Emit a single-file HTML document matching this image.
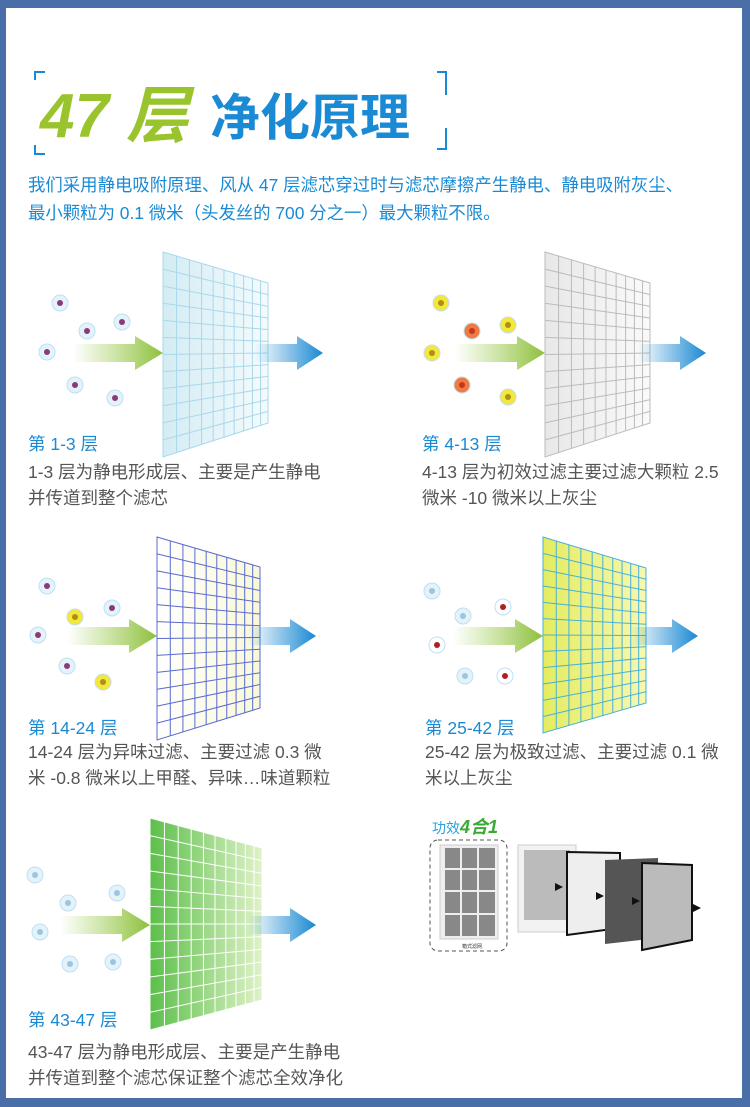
<!DOCTYPE html>
<html><head><meta charset="utf-8"><style>
html,body{margin:0;padding:0}
body{width:750px;height:1107px;position:relative;background:#4a6ea8;overflow:hidden;font-family:"Liberation Sans","Noto Sans CJK SC",sans-serif}
#w{position:absolute;left:6px;top:8px;width:736px;height:1090px;background:#fff}
.t{position:absolute;font-size:17.5px;white-space:nowrap}
.h{color:#1a8ad4}
.d{color:#555;line-height:26px}
svg{position:absolute;left:0;top:0}
</style></head><body>
<div id="w"></div>
<svg id="s" width="750" height="1107">
<defs>
<linearGradient id="ga" x1="0" x2="1"><stop offset="0" stop-color="#9ccb4a" stop-opacity="0"/><stop offset="1" stop-color="#8dc03c"/></linearGradient>
<linearGradient id="ba" x1="0" x2="1"><stop offset="0" stop-color="#1a8ad4" stop-opacity="0"/><stop offset="1" stop-color="#1a88d2"/></linearGradient>
<linearGradient id="f1" x1="0" x2="1"><stop offset="0" stop-color="#d4ecf4"/><stop offset="1" stop-color="#f4fbfd"/></linearGradient>
<linearGradient id="f2" x1="0" x2="1"><stop offset="0" stop-color="#e8e8e8"/><stop offset="1" stop-color="#fafafa"/></linearGradient>
<linearGradient id="f3" x1="0" x2="1"><stop offset="0" stop-color="#fff"/><stop offset="1" stop-color="#f8f8d8"/></linearGradient>
<linearGradient id="f4" x1="0" x2="1"><stop offset="0" stop-color="#e4ec60"/><stop offset="1" stop-color="#f6f8b0"/></linearGradient>
<linearGradient id="f5" x1="0" x2="1"><stop offset="0" stop-color="#5cbf4a"/><stop offset="1" stop-color="#dff2c8"/></linearGradient>
</defs>
<g fill="none" stroke="#1a8ad4" stroke-width="2">
<path d="M35 80 V72 H45"/><path d="M35 145 V154 H45"/><path d="M437 72 H446 V95"/><path d="M437 149 H446 V128"/>
</g>
<text x="40" y="137" font-size="62" font-weight="bold" font-style="italic" fill="#9ac42e" font-family="Liberation Sans,Noto Sans CJK SC,sans-serif">47 层</text>
<text x="210" y="135" font-size="50" font-weight="bold" fill="#1a8ad4" font-family="Liberation Sans,Noto Sans CJK SC,sans-serif">净化原理</text>
<g id="g"></g>
<text x="432" y="833" font-size="14" fill="#2aa0e0" font-family="Liberation Sans,Noto Sans CJK SC,sans-serif">功效<tspan font-weight="bold" font-style="italic" font-size="18" fill="#3aaa35">4合1</tspan></text>
<rect x="430" y="840" width="77" height="111" rx="8" fill="none" stroke="#555" stroke-dasharray="4,3"/>
<rect x="440" y="845" width="58" height="94" fill="#eee" stroke="#ccc"/>
<rect x="445" y="848" width="50" height="88" fill="#888"/>
<g stroke="#eee" stroke-width="2"><path d="M461 848V936M478 848V936M445 869H495M445 891H495M445 914H495"/></g>
<text x="462" y="948" font-size="5" fill="#333">箱式滤网</text>
<rect x="518" y="845" width="58" height="87" fill="#f2f2f2" stroke="#ccc"/>
<rect x="524" y="850" width="46" height="70" fill="#bbb"/>
<polygon points="567,852 620,853 620,928 567,935" fill="#eee" stroke="#111" stroke-width="2"/>
<polygon points="605,860 658,858 658,938 605,944" fill="#555"/>
<polygon points="642,863 692,865 692,940 642,950" fill="#bbb" stroke="#111" stroke-width="2"/>
<g fill="#111"><path d="M555 883l8 4-8 4z"/><path d="M596 892l8 4-8 4z"/><path d="M632 897l8 4-8 4z"/><path d="M693 904l8 4-8 4z"/></g>
</svg>
<div class="t h" style="left:28px;top:171px;font-size:17.4px;line-height:28px">我们采用静电吸附原理、风从 47 层滤芯穿过时与滤芯摩擦产生静电、静电吸附灰尘、<br>最小颗粒为 0.1 微米（头发丝的 700 分之一）最大颗粒不限。</div>
<div class="t h" style="left:28px;top:431px">第 1-3 层</div>
<div class="t d" style="left:28px;top:459px">1-3 层为静电形成层、主要是产生静电<br>并传道到整个滤芯</div>
<div class="t h" style="left:422px;top:431px">第 4-13 层</div>
<div class="t d" style="left:422px;top:459px">4-13 层为初效过滤主要过滤大颗粒 2.5<br>微米 -10 微米以上灰尘</div>
<div class="t h" style="left:28px;top:715px">第 14-24 层</div>
<div class="t d" style="left:28px;top:739px">14-24 层为异味过滤、主要过滤 0.3 微<br>米 -0.8 微米以上甲醛、异味…味道颗粒</div>
<div class="t h" style="left:425px;top:715px">第 25-42 层</div>
<div class="t d" style="left:425px;top:739px">25-42 层为极致过滤、主要过滤 0.1 微<br>米以上灰尘</div>
<div class="t h" style="left:28px;top:1007px">第 43-47 层</div>
<div class="t d" style="left:28px;top:1039px">43-47 层为静电形成层、主要是产生静电<br>并传道到整个滤芯保证整个滤芯全效净化</div>
<script>
var g=document.getElementById('g'),h='';
function F(L,yT,yB,R,yT2,yB2,fill,st,ax,ay,pc,parts){
 h+='<polygon points="'+L+','+yT+' '+R+','+yT2+' '+R+','+yB2+' '+L+','+yB+'" fill="url(#'+fill+')" stroke="'+st+'" stroke-width="1"/>';
 var n=10,xs=[],s=0,w=[];for(var i=0;i<n;i++){w.push(1-i*0.05);s+=w[i];}
 var c=0;for(i=0;i<n;i++){c+=w[i]/s;xs.push(c);}
 for(i=0;i<n-1;i++){var x=L+(R-L)*xs[i],t=xs[i];h+='<line x1="'+x+'" y1="'+(yT+(yT2-yT)*t)+'" x2="'+x+'" y2="'+(yB+(yB2-yB)*t)+'" stroke="'+st+'"/>';}
 var m=12;for(i=1;i<m;i++){var f=i/m;h+='<line x1="'+L+'" y1="'+(yT+(yB-yT)*f)+'" x2="'+R+'" y2="'+(yT2+(yB2-yT2)*f)+'" stroke="'+st+'"/>';}
 h+='<path d="M'+(L-90)+' '+(ay-9)+'H'+(L-28)+'V'+(ay-17)+'L'+L+' '+ay+'L'+(L-28)+' '+(ay+17)+'V'+(ay+9)+'H'+(L-90)+'Z" fill="url(#ga)"/>';
 h+='<path d="M'+(ax)+' '+(ay-9)+'H'+(ax+42)+'V'+(ay-17)+'L'+(ax+68)+' '+ay+'L'+(ax+42)+' '+(ay+17)+'V'+(ay+9)+'H'+ax+'Z" fill="url(#ba)"/>';
 parts.forEach(function(p){h+='<circle cx="'+p[0]+'" cy="'+p[1]+'" r="8" fill="'+(p[2]||pc)+'" stroke="#bfe0f2"/><circle cx="'+p[0]+'" cy="'+p[1]+'" r="3" fill="'+(p[3]||'#8a3a7a')+'"/>';});
}
F(163,252,457,268,283,423,'f1','#a8d8ea',255,353,'#e4f2fa',[[60,303],[87,331],[122,322],[47,352],[75,385],[115,398]]);
F(545,252,457,650,283,423,'f2','#bbb',638,353,'#fff',[[441,303,'#f5e63a','#a8901a'],[472,331,'#f07a40','#c03a20'],[508,325,'#f5e63a','#a8901a'],[432,353,'#f5e63a','#a8901a'],[462,385,'#f07a40','#c03a20'],[508,397,'#f5e63a','#a8901a']]);
F(157,537,740,260,567,708,'f3','#5a6ad0',248,636,'#e4f2fa',[[47,586],[75,617,'#f5e63a','#a8901a'],[112,608],[38,635],[67,666],[103,682,'#f5e63a','#a8901a']]);
F(543,537,733,646,568,703,'f4','#49b0d8',630,636,'#e4f2fa',[[432,591,'#e4f2fa','#9ac6e0'],[463,616,'#e4f2fa','#9ac6e0'],[503,607,'#fff','#b02020'],[437,645,'#fff','#b02020'],[465,676,'#e4f2fa','#9ac6e0'],[505,676,'#fff','#b02020']]);
F(150,818,1030,262,848,1000,'f5','#fff',248,925,'#e4f2fa',[[35,875,'#e4f2fa','#9ac6e0'],[68,903,'#e4f2fa','#9ac6e0'],[117,893,'#e4f2fa','#9ac6e0'],[40,932,'#e4f2fa','#9ac6e0'],[70,964,'#e4f2fa','#9ac6e0'],[113,962,'#e4f2fa','#9ac6e0']]);
g.innerHTML=h;
</script>
</body></html>
